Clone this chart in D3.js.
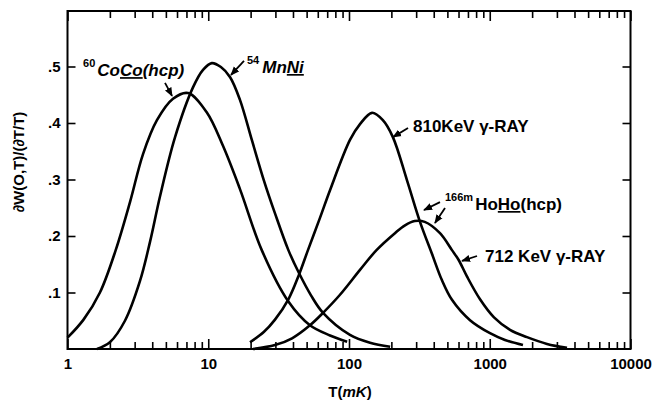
<!DOCTYPE html>
<html><head><meta charset="utf-8">
<script src="https://cdn.jsdelivr.net/npm/d3@7"></script>
<style>
html,body{margin:0;padding:0;background:#fff;}
svg{display:block;}
text{font-family:"Liberation Sans",Arial,Helvetica,sans-serif;fill:#000;}
</style></head><body>
<svg id="chart" width="663" height="403"></svg>
<script>
// ---- data (T in mK, sensitivity value) ----
const xTickValues = [1, 10, 100, 1000, 10000];
const xTickLabels = ["1", "10", "100", "1000", "10000"];
const yTickValues = [0.1, 0.2, 0.3, 0.4, 0.5];
const yTickLabels = [".1", ".2", ".3", ".4", ".5"];

const coCo = [[1,0.02],[1.3,0.052],[1.7,0.1],[2.2,0.175],[2.78,0.26],[3.44,0.345],[4.32,0.405],[5.62,0.443],[7.18,0.453],[9.75,0.419],[12.7,0.36],[16.8,0.283],[24,0.175],[37.1,0.084],[52.8,0.042],[73.3,0.024],[97,0.013]];
const mnNi = [[1.62,0],[2.0,0.012],[2.56,0.05],[3.27,0.12],[3.86,0.19],[4.54,0.27],[5.81,0.375],[7.79,0.463],[9.18,0.494],[10.6,0.506],[12.3,0.499],[14.3,0.481],[16.8,0.441],[20.4,0.37],[24.8,0.299],[29.8,0.24],[37.1,0.175],[44.2,0.134],[53.7,0.095],[65.4,0.064],[101.6,0.025],[141,0.011],[196,0.004]];
const kev810 = [[19.8,0.012],[24.8,0.03],[29.8,0.052],[37.1,0.088],[44.2,0.132],[51.1,0.175],[62.2,0.232],[73.3,0.281],[101.6,0.37],[119.7,0.398],[145.7,0.418],[174,0.405],[205,0.375],[258,0.299],[319.5,0.225],[389,0.168],[457,0.122],[539,0.087],[724,0.051],[1004,0.028],[1283,0.016],[1722,0.007]];
const kev712 = [[20.8,0],[29.8,0.007],[39.4,0.019],[52.8,0.042],[65.4,0.064],[86.3,0.096],[119.7,0.14],[156.8,0.175],[212,0.205],[250,0.219],[293,0.2265],[345,0.225],[443,0.205],[539,0.175],[600,0.158],[690,0.128],[853,0.088],[1072,0.056],[1393,0.034],[1839,0.021],[2551,0.009],[3540,0.002]];

// ---- layout ----
const svg = d3.select("#chart");
const L = 67.5, R = 630.5, T = 11, B = 349;
const x = d3.scaleLog().domain([1, 10000]).range([L, R]);
const y = d3.scaleLinear().domain([0, (B - T) / 565]).range([B, T]);

const minorX = [];
for (let d = 1; d < 10000; d *= 10) for (let k = 2; k <= 9; k++) minorX.push(d * k);

// bottom axis
const gB = svg.append("g").attr("transform", `translate(0,${B})`);
gB.append("g").call(d3.axisBottom(x).tickValues(minorX).tickSizeInner(-7).tickSizeOuter(0).tickFormat(""));
gB.append("g").call(d3.axisBottom(x).tickValues(xTickValues).tickSizeInner(-10).tickSizeOuter(0).tickPadding(9).tickFormat((d, i) => xTickLabels[i]));
// top axis
const gT = svg.append("g").attr("transform", `translate(0,${T})`);
gT.append("g").call(d3.axisTop(x).tickValues(minorX).tickSizeInner(-7).tickSizeOuter(0).tickFormat(""));
gT.append("g").call(d3.axisTop(x).tickValues(xTickValues).tickSizeInner(-10).tickSizeOuter(0).tickFormat(""));
// left / right
svg.append("g").attr("transform", `translate(${L},0)`).call(d3.axisLeft(y).tickValues(yTickValues).tickSizeInner(-8).tickSizeOuter(0).tickPadding(7).tickFormat((d, i) => yTickLabels[i]));
svg.append("g").attr("transform", `translate(${R},0)`).call(d3.axisRight(y).tickValues(yTickValues).tickSizeInner(-8).tickSizeOuter(0).tickFormat(""));

svg.selectAll(".domain").remove();
svg.selectAll(".tick line").attr("stroke", "#000").attr("stroke-width", 1.6);
svg.selectAll(".tick text").attr("font-size", 15).attr("font-weight", "bold").attr("fill", "#000");

// frame
svg.append("rect").attr("x", L).attr("y", T).attr("width", R - L).attr("height", B - T)
  .attr("fill", "none").attr("stroke", "#000").attr("stroke-width", 2);

// curves
const line = d3.line().x(d => x(d[0])).y(d => y(d[1])).curve(d3.curveCatmullRom.alpha(0.5));
[coCo, mnNi, kev810, kev712].forEach(s => {
  svg.append("path").datum(s).attr("d", line).attr("fill", "none").attr("stroke", "#000").attr("stroke-width", 2.6);
});

// arrow marker
svg.append("defs").append("marker").attr("id", "ah").attr("viewBox", "0 0 10 10").attr("refX", 9).attr("refY", 5)
  .attr("markerWidth", 5).attr("markerHeight", 5).attr("orient", "auto")
  .append("path").attr("d", "M0,1 L10,5 L0,9 z").attr("fill", "#000");

// leaders: [from, to] in data coordinates
const leaders = [
  [[4.93, 0.471], [5.53, 0.448]],
  [[17.95, 0.51], [14.5, 0.485]],
  [[262.6, 0.391], [205.4, 0.375]],
  [[443, 0.26], [341, 0.246]],
  [[481, 0.2496], [408, 0.223]],
  [[812, 0.1646], [635, 0.1558]]
];
leaders.forEach(([a, b]) => {
  svg.append("line").attr("x1", x(a[0])).attr("y1", y(a[1])).attr("x2", x(b[0])).attr("y2", y(b[1]))
    .attr("stroke", "#000").attr("stroke-width", 1.8).attr("marker-end", "url(#ah)");
});

// annotation labels
function label(pos, parts) {
  const t = svg.append("text").attr("x", x(pos[0])).attr("y", y(pos[1])).attr("font-size", 17).attr("font-weight", "bold");
  parts.forEach(p => {
    const s = t.append("tspan").text(p.t);
    if (p.sup) s.attr("font-size", 11).attr("dy", -9);
    if (p.down) s.attr("dy", 9);
    if (p.it) s.attr("font-style", "italic");
    if (p.u) s.attr("text-decoration", "underline");
    if (p.dx) s.attr("dx", p.dx);
  });
}
label([1.29, 0.483], [{t: "60", sup: 1}, {t: "Co", it: 1, down: 1, dx: 2}, {t: "Co", it: 1, u: 1}, {t: "(hcp)", it: 1}]);
label([18.85, 0.4885], [{t: "54", sup: 1}, {t: "Mn", it: 1, down: 1, dx: 3}, {t: "Ni", it: 1, u: 1}]);
label([284.9, 0.384], [{t: "810KeV γ-RAY"}]);
label([481, 0.246], [{t: "166m", sup: 1}, {t: "Ho", down: 1, dx: 2}, {t: "Ho", u: 1}, {t: "(hcp)"}]);
label([925.5, 0.154], [{t: "712 KeV γ-RAY"}]);

// axis titles
const xt = svg.append("text").attr("x", (L + R) / 2 + 1).attr("y", 397).attr("text-anchor", "middle")
  .attr("font-size", 15).attr("font-weight", "bold");
xt.append("tspan").text("T(");
xt.append("tspan").text("mK").attr("font-style", "italic");
xt.append("tspan").text(")");

svg.append("text").attr("transform", "translate(24,162) rotate(-90)").attr("text-anchor", "middle")
  .attr("font-size", 15).attr("font-weight", "bold").text("∂W(O,T)/(∂T/T)");
</script>
</body></html>
